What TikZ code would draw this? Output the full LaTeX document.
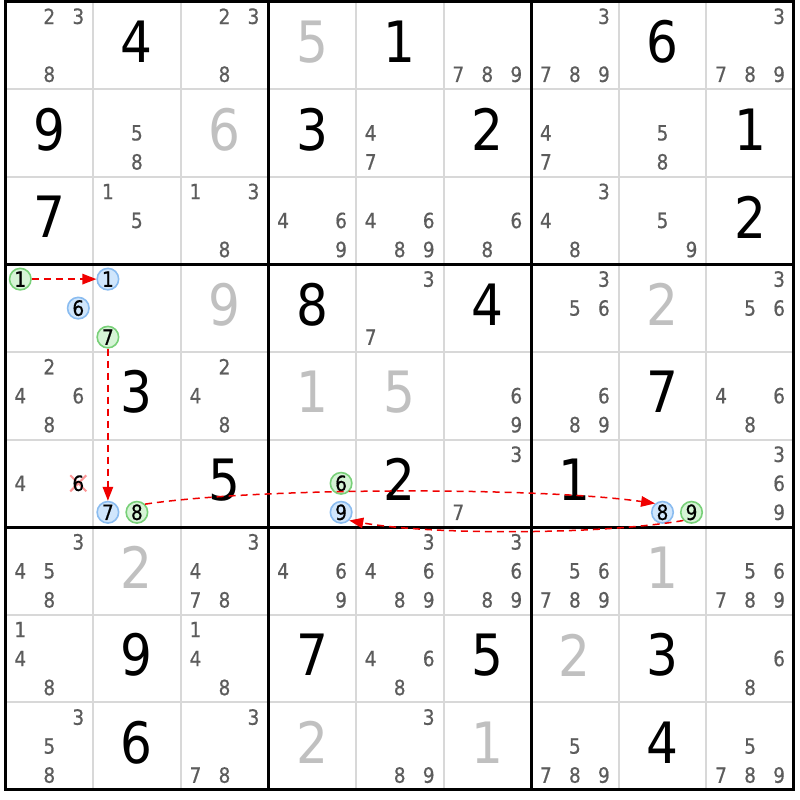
\documentclass[tikz,border=0pt]{standalone}
\usepackage{fontspec}
\setmainfont{DejaVu Sans}[FakeStretch=0.88]
\newfontfamily\candfont{DejaVu Sans}[FakeStretch=0.88,FakeBold=0.6]
\usetikzlibrary{arrows.meta}
\definecolor{candc}{RGB}{92,92,92}
\definecolor{solvedc}{RGB}{192,192,192}
\definecolor{thinc}{RGB}{216,216,216}
\definecolor{bluef}{RGB}{208,230,252}
\definecolor{blued}{RGB}{138,188,240}
\definecolor{greenf}{RGB}{214,244,214}
\definecolor{greend}{RGB}{120,208,120}
\definecolor{linkc}{RGB}{240,0,0}
\definecolor{crossc}{RGB}{252,150,150}
\tikzset{
  cand/.style={inner sep=0pt, text=candc, font=\candfont\fontsize{21}{24}\selectfont},
  givendig/.style={inner sep=0pt, text=black, font=\fontsize{57}{60}\selectfont},
  solveddig/.style={inner sep=0pt, text=solvedc, font=\fontsize{57}{60}\selectfont},
  bluecand/.style={circle, inner sep=0pt, minimum size=21.5pt, fill=bluef, draw=blued, line width=1.6pt, text=black, font=\candfont\fontsize{21}{24}\selectfont},
  greencand/.style={circle, inner sep=0pt, minimum size=21.5pt, fill=greenf, draw=greend, line width=1.6pt, text=black, font=\candfont\fontsize{21}{24}\selectfont},
  elimcand/.style={inner sep=0pt, text=black, font=\candfont\fontsize{21}{24}\selectfont},
  thinline/.style={draw=thinc, line width=2pt},
  thickline/.style={draw=black, line width=3pt, line cap=rect},
  link/.style={draw=linkc, line width=1.5pt, dash pattern=on 7pt off 5pt, -{Triangle[length=14pt,width=10.5pt]}},
  crossline/.style={draw=crossc, line width=2pt}
}
\newcommand\setpos[3]{%
  \pgfmathsetmacro\px{5.5+(#2-0.5)*87.6+(mod(#3-1,3)-1)*29}%
  \pgfmathsetmacro\py{1.5+(#1-0.5)*87.6+(floor((#3-1)/3)-1)*29}}
\newcommand\cands[3]{%
  \foreach \d in {#3}{\setpos{#1}{#2}{\d}\node[cand] (c#1#2x\d) at (\px,\py) {\d};}}
\newcommand\givenat[3]{%
  \node[givendig] (n#1#2) at ({5.5+(#2-0.5)*87.6},{1.5+(#1-0.5)*87.6-3.5}) {#3};}
\newcommand\solvedat[3]{%
  \node[solveddig] (n#1#2) at ({5.5+(#2-0.5)*87.6},{1.5+(#1-0.5)*87.6-3.5}) {#3};}
\begin{document}
\begin{tikzpicture}[x=1pt,y=-1pt]
\useasboundingbox (0,0) rectangle (800,800);
\fill[white] (0,0) rectangle (800,800);
% grid
\foreach \i in {1,2,4,5,7,8}{
  \draw[thinline] ({5.5+\i*87.6},1.5) -- ({5.5+\i*87.6},789.9);
  \draw[thinline] (5.5,{1.5+\i*87.6}) -- (793.9,{1.5+\i*87.6});
}
\foreach \i in {0,3,6,9}{
  \draw[thickline] ({5.5+\i*87.6},1.5) -- ({5.5+\i*87.6},789.9);
  \draw[thickline] (5.5,{1.5+\i*87.6}) -- (793.9,{1.5+\i*87.6});
}
% row 1
\cands{1}{1}{2,3,8} \givenat{1}{2}{4} \cands{1}{3}{2,3,8} \solvedat{1}{4}{5} \givenat{1}{5}{1}
\cands{1}{6}{7,8,9} \cands{1}{7}{3,7,8,9} \givenat{1}{8}{6} \cands{1}{9}{3,7,8,9}
% row 2
\givenat{2}{1}{9} \cands{2}{2}{5,8} \solvedat{2}{3}{6} \givenat{2}{4}{3} \cands{2}{5}{4,7}
\givenat{2}{6}{2} \cands{2}{7}{4,7} \cands{2}{8}{5,8} \givenat{2}{9}{1}
% row 3
\givenat{3}{1}{7} \cands{3}{2}{1,5} \cands{3}{3}{1,3,8} \cands{3}{4}{4,6,9} \cands{3}{5}{4,6,8,9}
\cands{3}{6}{6,8} \cands{3}{7}{3,4,8} \cands{3}{8}{5,9} \givenat{3}{9}{2}
% row 4
\setpos{4}{1}{1}\node[greencand] (g41) at (\px,\py) {1};
\setpos{4}{1}{6}\node[bluecand] (b41) at (\px,\py) {6};
\setpos{4}{2}{1}\node[bluecand] (b42) at (\px,\py) {1};
\setpos{4}{2}{7}\node[greencand] (g42) at (\px,\py) {7};
\solvedat{4}{3}{9} \givenat{4}{4}{8} \cands{4}{5}{3,7} \givenat{4}{6}{4}
\cands{4}{7}{3,5,6} \solvedat{4}{8}{2} \cands{4}{9}{3,5,6}
% row 5
\cands{5}{1}{2,4,6,8} \givenat{5}{2}{3} \cands{5}{3}{2,4,8} \solvedat{5}{4}{1} \solvedat{5}{5}{5}
\cands{5}{6}{6,9} \cands{5}{7}{6,8,9} \givenat{5}{8}{7} \cands{5}{9}{4,6,8}
% row 6
\cands{6}{1}{4}
\setpos{6}{1}{6}
\draw[crossline] (\px-8,\py-8) -- (\px+8,\py+8);
\draw[crossline] (\px-8,\py+8) -- (\px+8,\py-8);
\node[elimcand] (e61) at (\px,\py) {6};
\setpos{6}{2}{7}\node[bluecand] (b62) at (\px,\py) {7};
\setpos{6}{2}{8}\node[greencand] (g62) at (\px,\py) {8};
\givenat{6}{3}{5}
\setpos{6}{4}{6}\node[greencand] (g64) at (\px,\py) {6};
\setpos{6}{4}{9}\node[bluecand] (b64) at (\px,\py) {9};
\givenat{6}{5}{2} \cands{6}{6}{3,7} \givenat{6}{7}{1}
\setpos{6}{8}{8}\node[bluecand] (b68) at (\px,\py) {8};
\setpos{6}{8}{9}\node[greencand] (g68) at (\px,\py) {9};
\cands{6}{9}{3,6,9}
% row 7
\cands{7}{1}{3,4,5,8} \solvedat{7}{2}{2} \cands{7}{3}{3,4,7,8} \cands{7}{4}{4,6,9} \cands{7}{5}{3,4,6,8,9}
\cands{7}{6}{3,6,8,9} \cands{7}{7}{5,6,7,8,9} \solvedat{7}{8}{1} \cands{7}{9}{5,6,7,8,9}
% row 8
\cands{8}{1}{1,4,8} \givenat{8}{2}{9} \cands{8}{3}{1,4,8} \givenat{8}{4}{7} \cands{8}{5}{4,6,8}
\givenat{8}{6}{5} \solvedat{8}{7}{2} \givenat{8}{8}{3} \cands{8}{9}{6,8}
% row 9
\cands{9}{1}{3,5,8} \givenat{9}{2}{6} \cands{9}{3}{3,7,8} \solvedat{9}{4}{2} \cands{9}{5}{3,8,9}
\solvedat{9}{6}{1} \cands{9}{7}{5,7,8,9} \givenat{9}{8}{4} \cands{9}{9}{5,7,8,9}
% links
\draw[link] (g41) -- (b42);
\draw[link] (g42) -- (b62);
\draw[link] (g62.45) .. controls (260,487) and (540,487) .. (b68.130);
\draw[link] (g68.225) .. controls (600,535) and (430,535) .. (b64.315);
\end{tikzpicture}
\end{document}
